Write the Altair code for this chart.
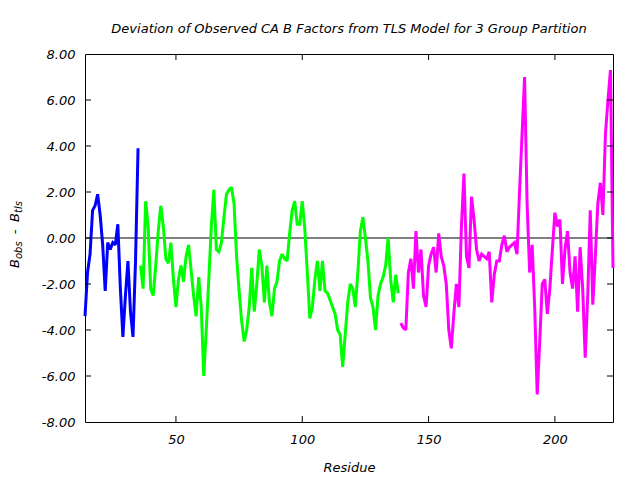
import altair as alt
import pandas as pd

# Group 1 (blue): residues 14..35
blue_start = 14
blue_vals = [-3.4, -1.5, -0.7, 1.2, 1.4, 1.9, 1.0, -0.3, -2.3, -0.2, -0.5, -0.2,
             -0.3, 0.6, -2.2, -4.3, -2.5, -1.0, -3.2, -4.3, -1.0, 3.9]

# Group 2 (green): residues 36..138
green_start = 36
green_vals = [-1.2, -2.2, 1.6, 0.5, -2.2, -2.5, -1.2, 0.3, 1.4, 0.5, -0.9, -1.1,
              -0.2, -1.8, -3.0, -1.8, -1.2, -1.9, -0.8, -0.3, -1.4, -2.5, -3.4, -1.7,
              -3.0, -6.0, -4.0, -1.8, 0.5, 2.1, -0.5, -0.6, -0.2, 0.9, 1.9, 2.1,
              2.2, 1.5, -0.8, -2.3, -3.6, -4.5, -4.0, -3.0, -1.3, -3.2, -2.0, -0.5,
              -1.2, -2.8, -1.2, -2.8, -3.4, -2.2, -1.9, -1.0, -0.7, -0.9, -1.0, 0.2,
              1.2, 1.6, 0.6, 0.6, 1.6, 0.4, -1.5, -3.5, -3.0, -1.8, -1.0, -2.3,
              -1.0, -2.3, -2.4, -2.7, -3.0, -3.3, -4.0, -4.2, -5.6, -4.2, -2.8, -2.0,
              -2.2, -3.0, -1.5, 0.3, 0.9, 0.0, -1.0, -2.6, -3.0, -4.0, -2.5, -2.0,
              -1.7, -1.2, 0.0, -1.8, -2.8, -1.6, -2.4]

# Group 3 (magenta): residues 139..223
magenta_start = 139
magenta_vals = [-3.7, -3.9, -4.0, -1.5, -0.9, -2.2, 0.3, -1.5, -0.5, -2.5, -3.0, -1.2,
                -0.7, -0.4, -1.5, 0.2, -0.8, -1.2, -2.0, -4.0, -4.8, -3.3, -2.0, -3.0,
                0.5, 2.8, -0.8, -1.3, 1.8, 0.8, -0.5, -1.0, -0.7, -0.8, -0.9, -0.6,
                -2.8, -1.6, -1.0, -1.0, -0.3, 0.1, -0.6, -0.4, -0.3, -0.2, -0.7, 2.0,
                4.5, 7.0, 1.5, -1.5, -0.3, -3.0, -6.8, -4.5, -2.0, -1.8, -3.3, -2.2,
                -0.5, 1.1, 0.5, 0.8, -2.0, -0.5, 0.3, -1.5, -2.2, -0.8, -3.2, -0.4,
                -2.2, -5.2, -2.5, 1.2, -2.9, -0.8, 1.5, 2.4, 1.0, 4.5, 6.0, 7.3, -1.3]

groups = ["Group 1", "Group 2", "Group 3"]
colors = ["#0000ff", "#00ff00", "#ff00ff"]

x_ticks = [50, 100, 150, 200]
y_ticks = [-8, -6, -4, -2, 0, 2, 4, 6, 8]
y_inner_ticks = [-6, -4, -2, 0, 2, 4, 6]

title_text = "Deviation of Observed CA B Factors from TLS Model for 3 Group Partition"

rows = []
for g, start, vals in zip(groups, [blue_start, green_start, magenta_start],
                          [blue_vals, green_vals, magenta_vals]):
    for i, v in enumerate(vals):
        rows.append({"residue": start + i, "dev": v, "group": g})
df = pd.DataFrame(rows)

FONT = "DejaVu Sans"
FS = 13
W, H = 528, 368

xscale = alt.Scale(domain=[14, 223], nice=False, zero=False)
yscale = alt.Scale(domain=[-8, 8], nice=False)

lines = alt.Chart(df).mark_line(strokeWidth=3, strokeJoin="miter", strokeMiterLimit=2).encode(
    x=alt.X("residue:Q", scale=xscale,
            axis=alt.Axis(values=x_ticks, title="Residue", ticks=False, domain=False,
                          grid=False, labelFont=FONT, labelFontSize=FS,
                          labelFontStyle="italic", labelColor="black", labelPadding=11,
                          titleFont=FONT, titleFontSize=FS, titleFontStyle="italic",
                          titleFontWeight="normal", titleColor="black", titlePadding=15)),
    y=alt.Y("dev:Q", scale=yscale,
            axis=alt.Axis(values=y_ticks, title="", ticks=False, domain=False, grid=False,
                          labelExpr="replace(format(datum.value, '.2f'), '\u2212', '-')",
                          labelFont=FONT, labelFontSize=FS, labelFontStyle="italic",
                          labelColor="black", labelPadding=10)),
    color=alt.Color("group:N", scale=alt.Scale(domain=groups, range=colors), legend=None),
    detail="group:N",
)

zero = alt.Chart(pd.DataFrame({"v": [0]})).mark_rule(color="black", strokeWidth=1).encode(
    y=alt.Y("v:Q", scale=yscale)
)

xt = pd.DataFrame({"t": x_ticks})
yt = pd.DataFrame({"t": y_inner_ticks})
tick_bottom = alt.Chart(xt).mark_rule(color="black").encode(
    x=alt.X("t:Q", scale=xscale), y=alt.value(H), y2=alt.value(H - 6))
tick_top = alt.Chart(xt).mark_rule(color="black").encode(
    x=alt.X("t:Q", scale=xscale), y=alt.value(0), y2=alt.value(6))
tick_left = alt.Chart(yt).mark_rule(color="black").encode(
    y=alt.Y("t:Q", scale=yscale), x=alt.value(0), x2=alt.value(6))
tick_right = alt.Chart(yt).mark_rule(color="black").encode(
    y=alt.Y("t:Q", scale=yscale), x=alt.value(W), x2=alt.value(W - 6))


def piece(txt, size, px, py, align="left"):
    return alt.Chart(pd.DataFrame({"s": [txt]})).mark_text(
        font=FONT, fontSize=size, fontStyle="italic", angle=270, align=align,
        baseline="middle", color="black").encode(
        text="s:N", x=alt.value(px), y=alt.value(py))


ytitle = (piece("B", 13, -70, 214) + piece("obs", 10, -66, 205)
          + piece("-", 13, -70, 178, align="center")
          + piece("B", 13, -70, 168) + piece("tls", 10, -66, 159))

chart = alt.layer(zero, lines, tick_bottom, tick_top, tick_left, tick_right, ytitle).properties(
    width=W, height=H,
    autosize=alt.AutoSizeParams(type="none"),
    padding={"left": 85, "top": 54, "right": 27, "bottom": 58},
    title=alt.TitleParams(text=title_text, font=FONT, fontSize=FS, fontStyle="italic",
                          fontWeight="normal", color="black", anchor="middle", offset=12),
    background="white",
).configure_view(stroke="black", strokeWidth=1)

chart.save("out.html", embed_options={"renderer": "svg", "actions": False})
